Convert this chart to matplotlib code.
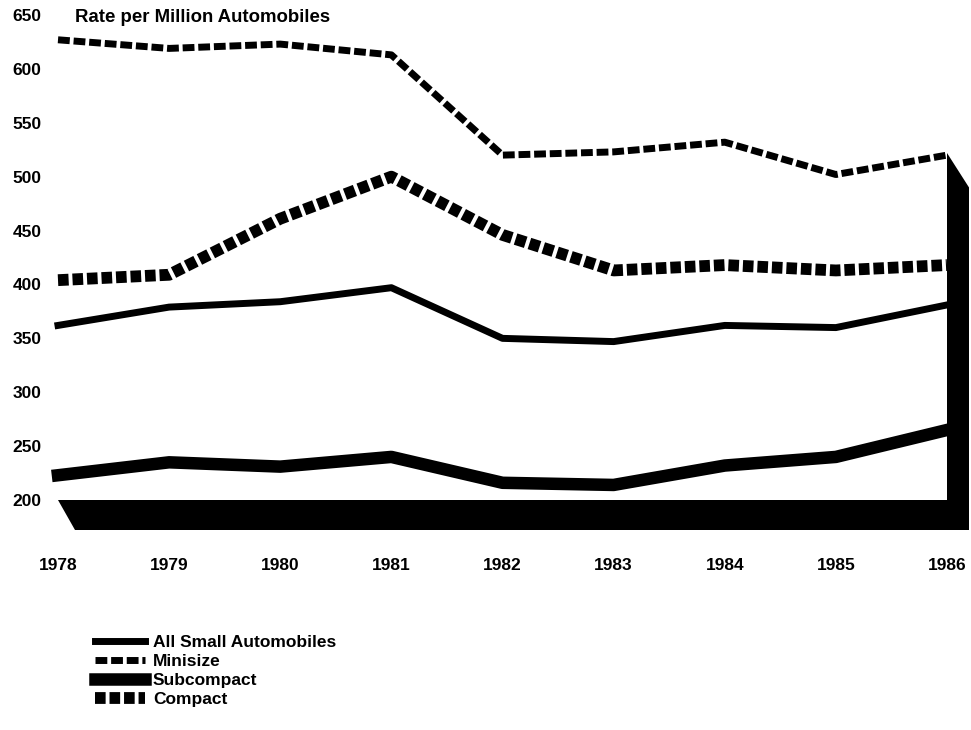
import matplotlib
matplotlib.use("Agg")
import matplotlib.pyplot as plt

years = [1978, 1979, 1980, 1981, 1982, 1983, 1984, 1985, 1986]
all_small = [362, 379, 384, 397, 350, 347, 362, 360, 381]
minisize = [627, 619, 623, 613, 520, 523, 532, 502, 520]
subcompact = [223, 235, 231, 240, 216, 214, 232, 240, 265]
compact = [404, 409, 461, 500, 446, 413, 418, 413, 418]
yticks = [200, 250, 300, 350, 400, 450, 500, 550, 600, 650]

plt.rcParams['font.family'] = ['Liberation Sans', 'DejaVu Sans']
plt.rcParams['font.weight'] = 'bold'

W, H = 971, 730
fig = plt.figure(figsize=(W / 100, H / 100), dpi=100)
# axes from 1978 (x=58px) to 1986 (x=947px), 650 at y=15px, floor bottom y=530px
ax = fig.add_axes([58 / W, (H - 530) / H, (947 - 58) / W, (530 - 15) / H])
ymin, ymax = 172.2, 650
ax.set_xlim(1978, 1986)
ax.set_ylim(ymin, ymax)

# 3D-looking floor and right wall
xs = (1986 - 1978) / (947 - 58)  # years per pixel
ax.fill([1978, 1986, 1986, 1978 + 17 * xs], [200, 200, ymin, ymin],
        color='black', lw=0, clip_on=False)
ax.fill([1986, 1986 + 22 * xs, 1986 + 22 * xs, 1986], [522, 490, ymin, ymin],
        color='black', lw=0, clip_on=False)

l1, = ax.plot(years, all_small, color='black', lw=5, solid_joinstyle='round',
              label='All Small Automobiles', clip_on=False)
l2, = ax.plot(years, minisize, color='black', lw=5, dashes=(1.7, 0.55),
              dash_capstyle='butt', label='Minisize', clip_on=False)
l3, = ax.plot(years, subcompact, color='black', lw=9, solid_joinstyle='round',
              label='Subcompact', clip_on=False)
l4, = ax.plot(years, compact, color='black', lw=8.5, dashes=(0.9, 0.33),
              dash_capstyle='butt', label='Compact', clip_on=False)

for s in ax.spines.values():
    s.set_visible(False)
ax.set_yticks(yticks)
ax.set_yticklabels([str(v) for v in yticks])
ax.set_xticks(years)
ax.set_xticklabels([str(y) for y in years])
ax.tick_params(axis='y', length=0, pad=12, labelsize=12.5)
ax.tick_params(axis='x', length=0, pad=20, labelsize=12.5)
for t in ax.get_xticklabels() + ax.get_yticklabels():
    t.set_fontweight('bold')

fig.text(75 / W, 1 - 17 / H, 'Rate per Million Automobiles', fontsize=13.4,
         fontweight='bold', va='center', ha='left')

fig.legend(handles=[l1, l2, l3, l4], loc='upper left',
           bbox_to_anchor=(86 / W, 1 - 626 / H), frameon=False,
           handlelength=2.9, handletextpad=0.45, labelspacing=0.22, borderpad=0,
           prop={'weight': 'bold', 'size': 12.5})

fig.savefig('out.png', dpi=100)
